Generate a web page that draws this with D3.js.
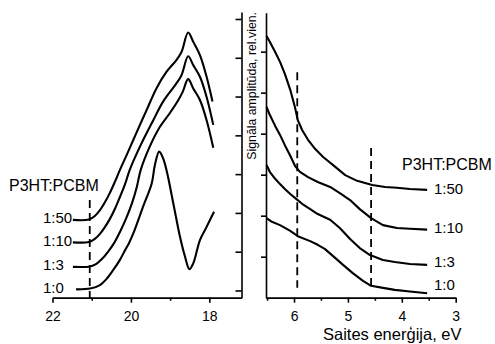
<!DOCTYPE html>
<meta charset="utf-8">
<style>

body { margin: 0; background: #fff; }
text {
  font-family: "Liberation Sans", Arial, sans-serif;
  fill: #000;
}
.axis path, .axis line { stroke: #000; stroke-width: 1.6px; }
.curve { fill: none; stroke: #000; stroke-width: 2.1px; stroke-linejoin: round; }
.marker { stroke: #000; stroke-width: 1.8px; stroke-dasharray: 8,5; }

</style>
<body>
  <div class="chart"></div>
</body>

<script src="https://cdn.jsdelivr.net/npm/d3@7"></script>
<script>

// left panel: photon energy (eV) vs signal, one curve per P3HT:PCBM ratio
var ratios = ["1:50", "1:10", "1:3", "1:0"];

var left150 = [[21.48,1.82],[21.07,1.83],[20.92,1.92],[20.79,2.07],[20.66,2.28],[20.54,2.51],[20.41,2.80],
  [20.28,3.11],[20.11,3.49],[19.94,3.88],[19.77,4.27],[19.60,4.65],[19.35,5.21],[19.09,5.64],[18.84,5.94],
  [18.71,6.15],[18.54,6.65],[18.41,6.41],[18.24,6.07],[18.07,5.51],[17.92,4.87]];
var left110 = [[21.48,1.24],[21.07,1.25],[20.92,1.33],[20.79,1.46],[20.66,1.64],[20.54,1.84],[20.41,2.10],
  [20.28,2.41],[20.15,2.74],[20.03,3.11],[19.77,3.71],[19.43,4.39],[19.18,4.87],[18.84,5.34],[18.71,5.55],
  [18.54,6.04],[18.41,5.81],[18.24,5.51],[18.07,4.99],[17.90,4.27]];
var left13 = [[21.48,0.61],[21.04,0.62],[20.89,0.68],[20.74,0.81],[20.59,0.99],[20.43,1.22],[20.28,1.51],
  [20.13,1.84],[19.97,2.26],[19.85,2.67],[19.75,3.11],[19.52,3.71],[19.26,4.22],[19.01,4.57],[18.79,4.91],
  [18.68,5.12],[18.54,5.45],[18.41,5.21],[18.24,4.91],[18.07,4.39],[17.90,3.68]];
var left10 = [[21.40,0.03],[21.04,0.05],[20.79,0.14],[20.62,0.30],[20.45,0.53],[20.28,0.79],[20.15,1.04],
  [20.05,1.22],[19.94,1.47],[19.69,2.16],[19.47,2.76],[19.39,3.23],[19.28,3.58],[19.18,3.41],[19.08,3.05],
  [18.92,2.25],[18.75,1.39],[18.62,0.87],[18.51,0.55],[18.41,0.70],[18.24,1.30],[18.07,1.64],[17.88,2.03]];

// right panel: binding energy (eV) vs signal amplitude
var right150 = [[6.51,6.38],[6.45,6.24],[6.35,5.99],[6.26,5.75],[6.17,5.46],[6.07,5.07],[5.98,4.63],
  [5.93,4.33],[5.85,4.09],[5.74,3.85],[5.61,3.63],[5.46,3.43],[5.28,3.24],[5.05,2.99],[4.83,2.85],
  [4.55,2.75],[4.31,2.70],[4.09,2.68],[3.85,2.65],[3.53,2.63]];
var right110 = [[6.51,4.65],[6.45,4.46],[6.35,4.19],[6.26,3.97],[6.17,3.72],[6.07,3.46],[5.98,3.21],
  [5.89,3.07],[5.74,2.94],[5.56,2.82],[5.33,2.70],[5.15,2.55],[4.96,2.38],[4.78,2.16],[4.57,1.94],
  [4.35,1.77],[4.09,1.70],[3.85,1.68],[3.53,1.66]];
var right13 = [[6.51,3.24],[6.45,3.07],[6.35,2.90],[6.26,2.77],[6.17,2.65],[6.07,2.53],[5.96,2.41],
  [5.85,2.29],[5.70,2.16],[5.56,2.04],[5.33,1.90],[5.15,1.70],[4.96,1.43],[4.78,1.21],[4.59,1.04],
  [4.35,0.92],[4.13,0.87],[3.85,0.82],[3.53,0.80]];
var right10 = [[6.51,1.94],[6.41,1.85],[6.26,1.77],[6.07,1.63],[5.93,1.50],[5.70,1.38],[5.56,1.29],
  [5.43,1.19],[5.28,1.02],[5.09,0.80],[4.91,0.60],[4.72,0.41],[4.57,0.29],[4.35,0.24],[4.13,0.19],
  [3.85,0.15],[3.53,0.11]];

var leftTicks = [22, 20, 18];
var leftMinor = [21, 19];
var rightTicks = [6, 5, 4, 3];
var rightMinor = [6.5, 5.5, 4.5, 3.5];

// dashed guides: [energy, top value]
var leftGuides = [[21.05, 2.33]];
var rightGuides = [[5.94, 5.50], [4.57, 3.65]];

var svg = d3.select(".chart")
        .append("svg")
        .attr("width", 495)
        .attr("height", 344);

var xL = d3.scaleLinear().domain([22, 17.18]).range([52.5, 241.5]);
var yL = d3.scaleLinear().domain([-0.186, 7.18]).range([297.7, 12]);
var xR = d3.scaleLinear().domain([6.52, 3]).range([266, 455.7]);
var yR = d3.scaleLinear().domain([0, 6.95]).range([297.7, 12.7]);

var lineL = d3.line()
        .x(function(d) { return xL(d[0]); })
        .y(function(d) { return yL(d[1]); })
        .curve(d3.curveCatmullRom.alpha(0.5));

var lineR = d3.line()
        .x(function(d) { return xR(d[0]); })
        .y(function(d) { return yR(d[1]); });

// axes
function styleAxis(g) {
    g.attr("class", "axis");
    g.selectAll("text").style("font-size", "14px").attr("dy", "0.95em");
}

svg.append("g")
        .attr("transform", "translate(0,297.7)")
        .call(d3.axisBottom(xL).tickValues(leftTicks).tickSize(5).tickSizeOuter(0).tickPadding(5).tickFormat(d3.format("d")))
        .call(styleAxis);
svg.append("g")
        .attr("transform", "translate(0,297.7)")
        .call(d3.axisBottom(xL).tickValues(leftMinor).tickSize(3).tickSizeOuter(0).tickFormat(""))
        .call(styleAxis);
svg.append("g")
        .attr("transform", "translate(241.5,0)")
        .call(d3.axisLeft(yL).tickValues(d3.range(0, 8)).tickSize(6).tickSizeOuter(0).tickFormat(""))
        .call(styleAxis);

svg.append("g")
        .attr("transform", "translate(0,297.7)")
        .call(d3.axisBottom(xR).tickValues(rightTicks).tickSize(5).tickSizeOuter(0).tickPadding(5).tickFormat(d3.format("d")))
        .call(styleAxis);
svg.append("g")
        .attr("transform", "translate(0,297.7)")
        .call(d3.axisBottom(xR).tickValues(rightMinor).tickSize(3).tickSizeOuter(0).tickFormat(""))
        .call(styleAxis);
svg.append("g")
        .attr("transform", "translate(266,0)")
        .call(d3.axisLeft(yR).tickValues(d3.range(1, 7)).tickSize(5).tickSizeOuter(0).tickFormat(""))
        .call(styleAxis);

// curves
svg.selectAll(".curveL")
        .data([left150, left110, left13, left10])
        .enter()
        .append("path")
        .attr("class", "curve")
        .attr("d", lineL);

svg.selectAll(".curveR")
        .data([right150, right110, right13, right10])
        .enter()
        .append("path")
        .attr("class", "curve")
        .attr("d", lineR);

// dashed guides
svg.selectAll(".guideL")
        .data(leftGuides)
        .enter()
        .append("line")
        .attr("class", "marker")
        .attr("x1", function(d) { return xL(d[0]); })
        .attr("x2", function(d) { return xL(d[0]); })
        .attr("y1", function(d) { return yL(d[1]); })
        .attr("y2", yL(-0.186));

svg.selectAll(".guideR")
        .data(rightGuides)
        .enter()
        .append("line")
        .attr("class", "marker")
        .attr("x1", function(d) { return xR(d[0]); })
        .attr("x2", function(d) { return xR(d[0]); })
        .attr("y1", function(d) { return yR(d[1]); })
        .attr("y2", yR(0.24));

// labels
var leftLabelY = [223, 246, 270, 293];
var rightLabelY = [194, 233, 267, 290];

svg.append("text").attr("x", 9).attr("y", 191).style("font-size", "16px").text("P3HT:PCBM");
svg.append("text").attr("x", 402).attr("y", 170).style("font-size", "16px").text("P3HT:PCBM");

svg.selectAll(".labL")
        .data(ratios)
        .enter()
        .append("text")
        .attr("x", 43)
        .attr("y", function(d, i) { return leftLabelY[i]; })
        .style("font-size", "15px")
        .text(function(d) { return d; });

svg.selectAll(".labR")
        .data(ratios)
        .enter()
        .append("text")
        .attr("x", 434)
        .attr("y", function(d, i) { return rightLabelY[i]; })
        .style("font-size", "15px")
        .text(function(d) { return d; });

svg.append("text")
        .attr("x", 323)
        .attr("y", 340)
        .style("font-size", "16.5px")
        .text("Saites enerģija, eV");

svg.append("text")
        .attr("transform", "translate(255.5,12) rotate(-90)")
        .style("text-anchor", "end")
        .style("font-size", "12.3px")
        .text("Signāla amplitūda, rel.vien.");

</script>
